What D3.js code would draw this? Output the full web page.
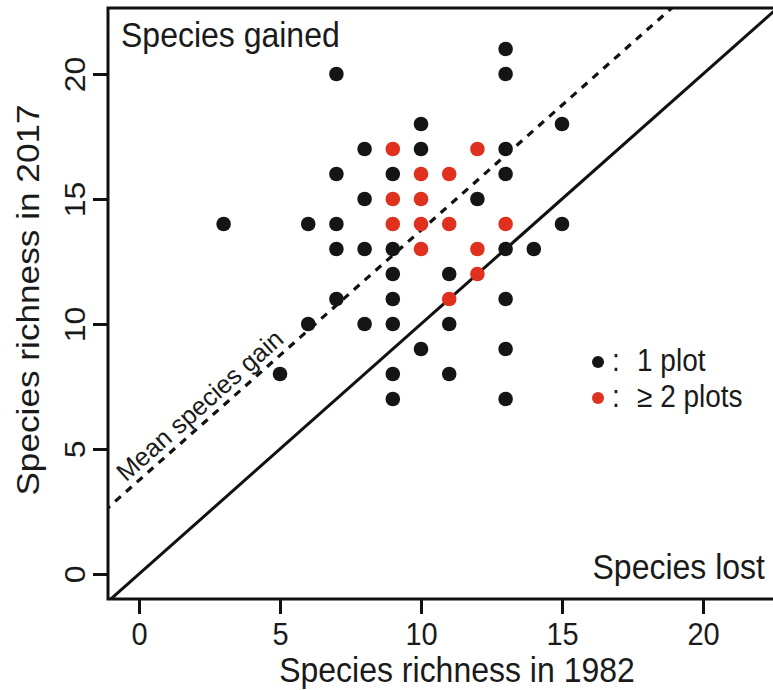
<!DOCTYPE html>
<html>
<head>
<meta charset="utf-8">
<script src="https://cdn.jsdelivr.net/npm/d3@7"></script>
<style>
  html, body { margin: 0; padding: 0; background: #fff; }
  svg { display: block; }
  text { font-family: "Liberation Sans", Arial, Helvetica, sans-serif; fill: #1a1a1a; }
</style>
</head>
<body>
<svg id="chart" width="773" height="690"></svg>
<script>
// ---- data ----
const onePlotX = [3, 5, 6, 6, 7, 7, 7, 7, 7, 8, 8, 8, 8, 9, 9, 9, 9, 9, 9, 9, 10, 10, 10, 11, 11, 11, 12, 13, 13, 13, 13, 13, 13, 13, 13, 14, 15, 15];
const onePlotY = [14, 8, 14, 10, 20, 16, 14, 13, 11, 17, 15, 13, 10, 16, 13, 12, 11, 10, 8, 7, 18, 17, 9, 12, 10, 8, 15, 21, 20, 17, 16, 13, 11, 9, 7, 13, 18, 14];
const multiPlotX = [9, 9, 9, 10, 10, 10, 10, 11, 11, 11, 12, 12, 12, 13];
const multiPlotY = [17, 15, 14, 16, 15, 14, 13, 16, 14, 11, 17, 13, 12, 14];
const meanGain = 3.75;
const xTicks = [0, 5, 10, 15, 20];
const yTicks = [0, 5, 10, 15, 20];
const legendLabels = ["1 plot", "\u2265 2 plots"];
const legendColors = ["#151515", "#e0301e"];
const xTitle = "Species richness in 1982";
const yTitle = "Species richness in 2017";

// ---- layout ----
const svg = d3.select("#chart");
const pLeft = 108, pRight = 773.5, pTop = 8, pBottom = 599;
const x = d3.scaleLinear().domain([-1.1, 22.5]).range([pLeft, pRight]);
const y = d3.scaleLinear().domain([-1, 22.64]).range([pBottom, pTop]);
const SY = 1.1; // vertical stretch of the text in the reference

const clipId = "plotclip";
svg.append("clipPath").attr("id", clipId)
  .append("rect").attr("x", pLeft).attr("y", pTop).attr("width", pRight - pLeft + 5).attr("height", pBottom - pTop);

const plot = svg.append("g").attr("clip-path", `url(#${clipId})`);

// 1:1 line
plot.append("line")
  .attr("x1", x(-2)).attr("y1", y(-2)).attr("x2", x(24)).attr("y2", y(24))
  .attr("stroke", "#111").attr("stroke-width", 3);

// mean gain dashed line
plot.append("line")
  .attr("x1", x(-2)).attr("y1", y(-2 + meanGain)).attr("x2", x(24)).attr("y2", y(24 + meanGain))
  .attr("stroke", "#111").attr("stroke-width", 3.2).attr("stroke-dasharray", "7.5,7");

// points
const onePts = onePlotX.map((v, i) => [v, onePlotY[i]]);
const multiPts = multiPlotX.map((v, i) => [v, multiPlotY[i]]);
plot.selectAll("circle.one").data(onePts).join("circle").attr("class", "one")
  .attr("cx", d => x(d[0])).attr("cy", d => y(d[1])).attr("r", 7.3).attr("fill", legendColors[0]);
plot.selectAll("circle.multi").data(multiPts).join("circle").attr("class", "multi")
  .attr("cx", d => x(d[0])).attr("cy", d => y(d[1])).attr("r", 7.3).attr("fill", legendColors[1]);

// frame (no right side visible)
svg.append("path")
  .attr("d", `M${pRight + 10},${pTop} H${pLeft} V${pBottom} H${pRight + 10}`)
  .attr("fill", "none").attr("stroke", "#111").attr("stroke-width", 3);

// axes
const xAxis = d3.axisBottom(x).tickValues(xTicks).tickSize(15).tickPadding(6).tickFormat(d3.format("d"));
const gx = svg.append("g").attr("transform", `translate(0,${pBottom})`).call(xAxis);
gx.select(".domain").remove();
gx.selectAll(".tick line").attr("stroke", "#111").attr("stroke-width", 3);
gx.selectAll(".tick text").remove();
gx.selectAll(".tick").append("text")
  .attr("text-anchor", "middle")
  .attr("transform", `translate(0,${645 - pBottom}) scale(1,${SY})`)
  .attr("font-size", 29)
  .text(d => d);

const yAxis = d3.axisLeft(y).tickValues(yTicks).tickSize(15).tickPadding(6).tickFormat(d3.format("d"));
const gy = svg.append("g").attr("transform", `translate(${pLeft},0)`).call(yAxis);
gy.select(".domain").remove();
gy.selectAll(".tick line").attr("stroke", "#111").attr("stroke-width", 3);
gy.selectAll(".tick text").remove();
gy.selectAll(".tick").append("text")
  .attr("text-anchor", "middle")
  .attr("transform", `translate(${85 - pLeft},0) scale(1,${SY}) rotate(-90)`)
  .attr("font-size", 29)
  .text(d => d);

// axis titles
svg.append("text")
  .attr("text-anchor", "middle")
  .attr("transform", `translate(457,682) scale(1,${SY})`)
  .attr("font-size", 32)
  .text(xTitle);
svg.append("text")
  .attr("text-anchor", "middle")
  .attr("transform", `translate(39,300) scale(1,${SY}) rotate(-90)`)
  .attr("font-size", 32)
  .text(yTitle);

// corner annotations
svg.append("text")
  .attr("transform", `translate(121,47) scale(1,${SY})`)
  .attr("font-size", 32)
  .text("Species gained");
svg.append("text")
  .attr("text-anchor", "end")
  .attr("transform", `translate(765,579) scale(1,${SY})`)
  .attr("font-size", 32)
  .text("Species lost");

// mean species gain label
const ang = Math.atan2(y(0) - y(1), x(1) - x(0)) * 180 / Math.PI;
const x0 = -0.3;
svg.append("text")
  .attr("transform", `translate(${x(x0)},${y(x0 + meanGain)}) rotate(${-ang}) translate(0,-7)`)
  .attr("font-size", 25.5)
  .text("Mean species gain");

// legend
const lg = svg.append("g");
legendLabels.forEach((lab, i) => {
  const cy = 362 + i * 36;
  lg.append("circle").attr("cx", 598).attr("cy", cy).attr("r", 6).attr("fill", legendColors[i]);
  lg.append("text").attr("transform", `translate(612,${cy + 9}) scale(1,${SY})`).attr("font-size", 28).text(":");
  lg.append("text").attr("transform", `translate(637,${cy + 9}) scale(1,${SY})`).attr("font-size", 28).text(lab);
});
</script>
</body>
</html>
